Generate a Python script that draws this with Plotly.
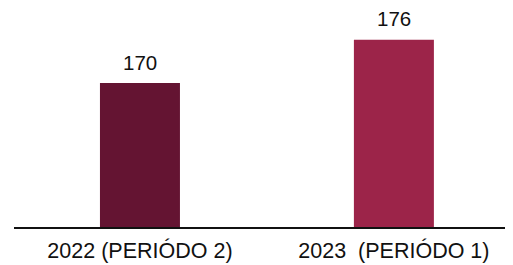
import plotly.graph_objects as go

categories = ["2022 (PERIÓDO 2)", "2023  (PERIÓDO 1)"]
values = [170, 176]
colors = ["#641432", "#9C2449"]

fig = go.Figure()
fig.add_trace(go.Bar(
    x=[0, 1], y=values, marker=dict(color=colors, line=dict(width=0)),
    width=0.315, hoverinfo="skip", cliponaxis=False,
))
for i, v in enumerate(values):
    fig.add_annotation(x=i, y=v, text=str(v), showarrow=False,
                       yanchor="middle", yshift=21, borderpad=0,
                       font=dict(family="Liberation Sans, Arial", size=20.5, color="#111"))

fig.update_layout(
    width=513, height=265,
    margin=dict(l=6, r=8, t=20, b=46),
    paper_bgcolor="white", plot_bgcolor="white",
    showlegend=False,
    font=dict(family="Liberation Sans, Arial", size=20, color="#111"),
)
fig.update_xaxes(
    range=[-0.496, 1.469], tickvals=[0, 1], ticktext=categories,
    showline=True, linecolor="#111", linewidth=2, showgrid=False,
    zeroline=False, ticks="", tickfont=dict(size=21.5), ticklabelstandoff=3,
)
fig.update_yaxes(range=[150, 177.64], visible=False, showgrid=False, zeroline=False)

fig.write_html("out.html")
